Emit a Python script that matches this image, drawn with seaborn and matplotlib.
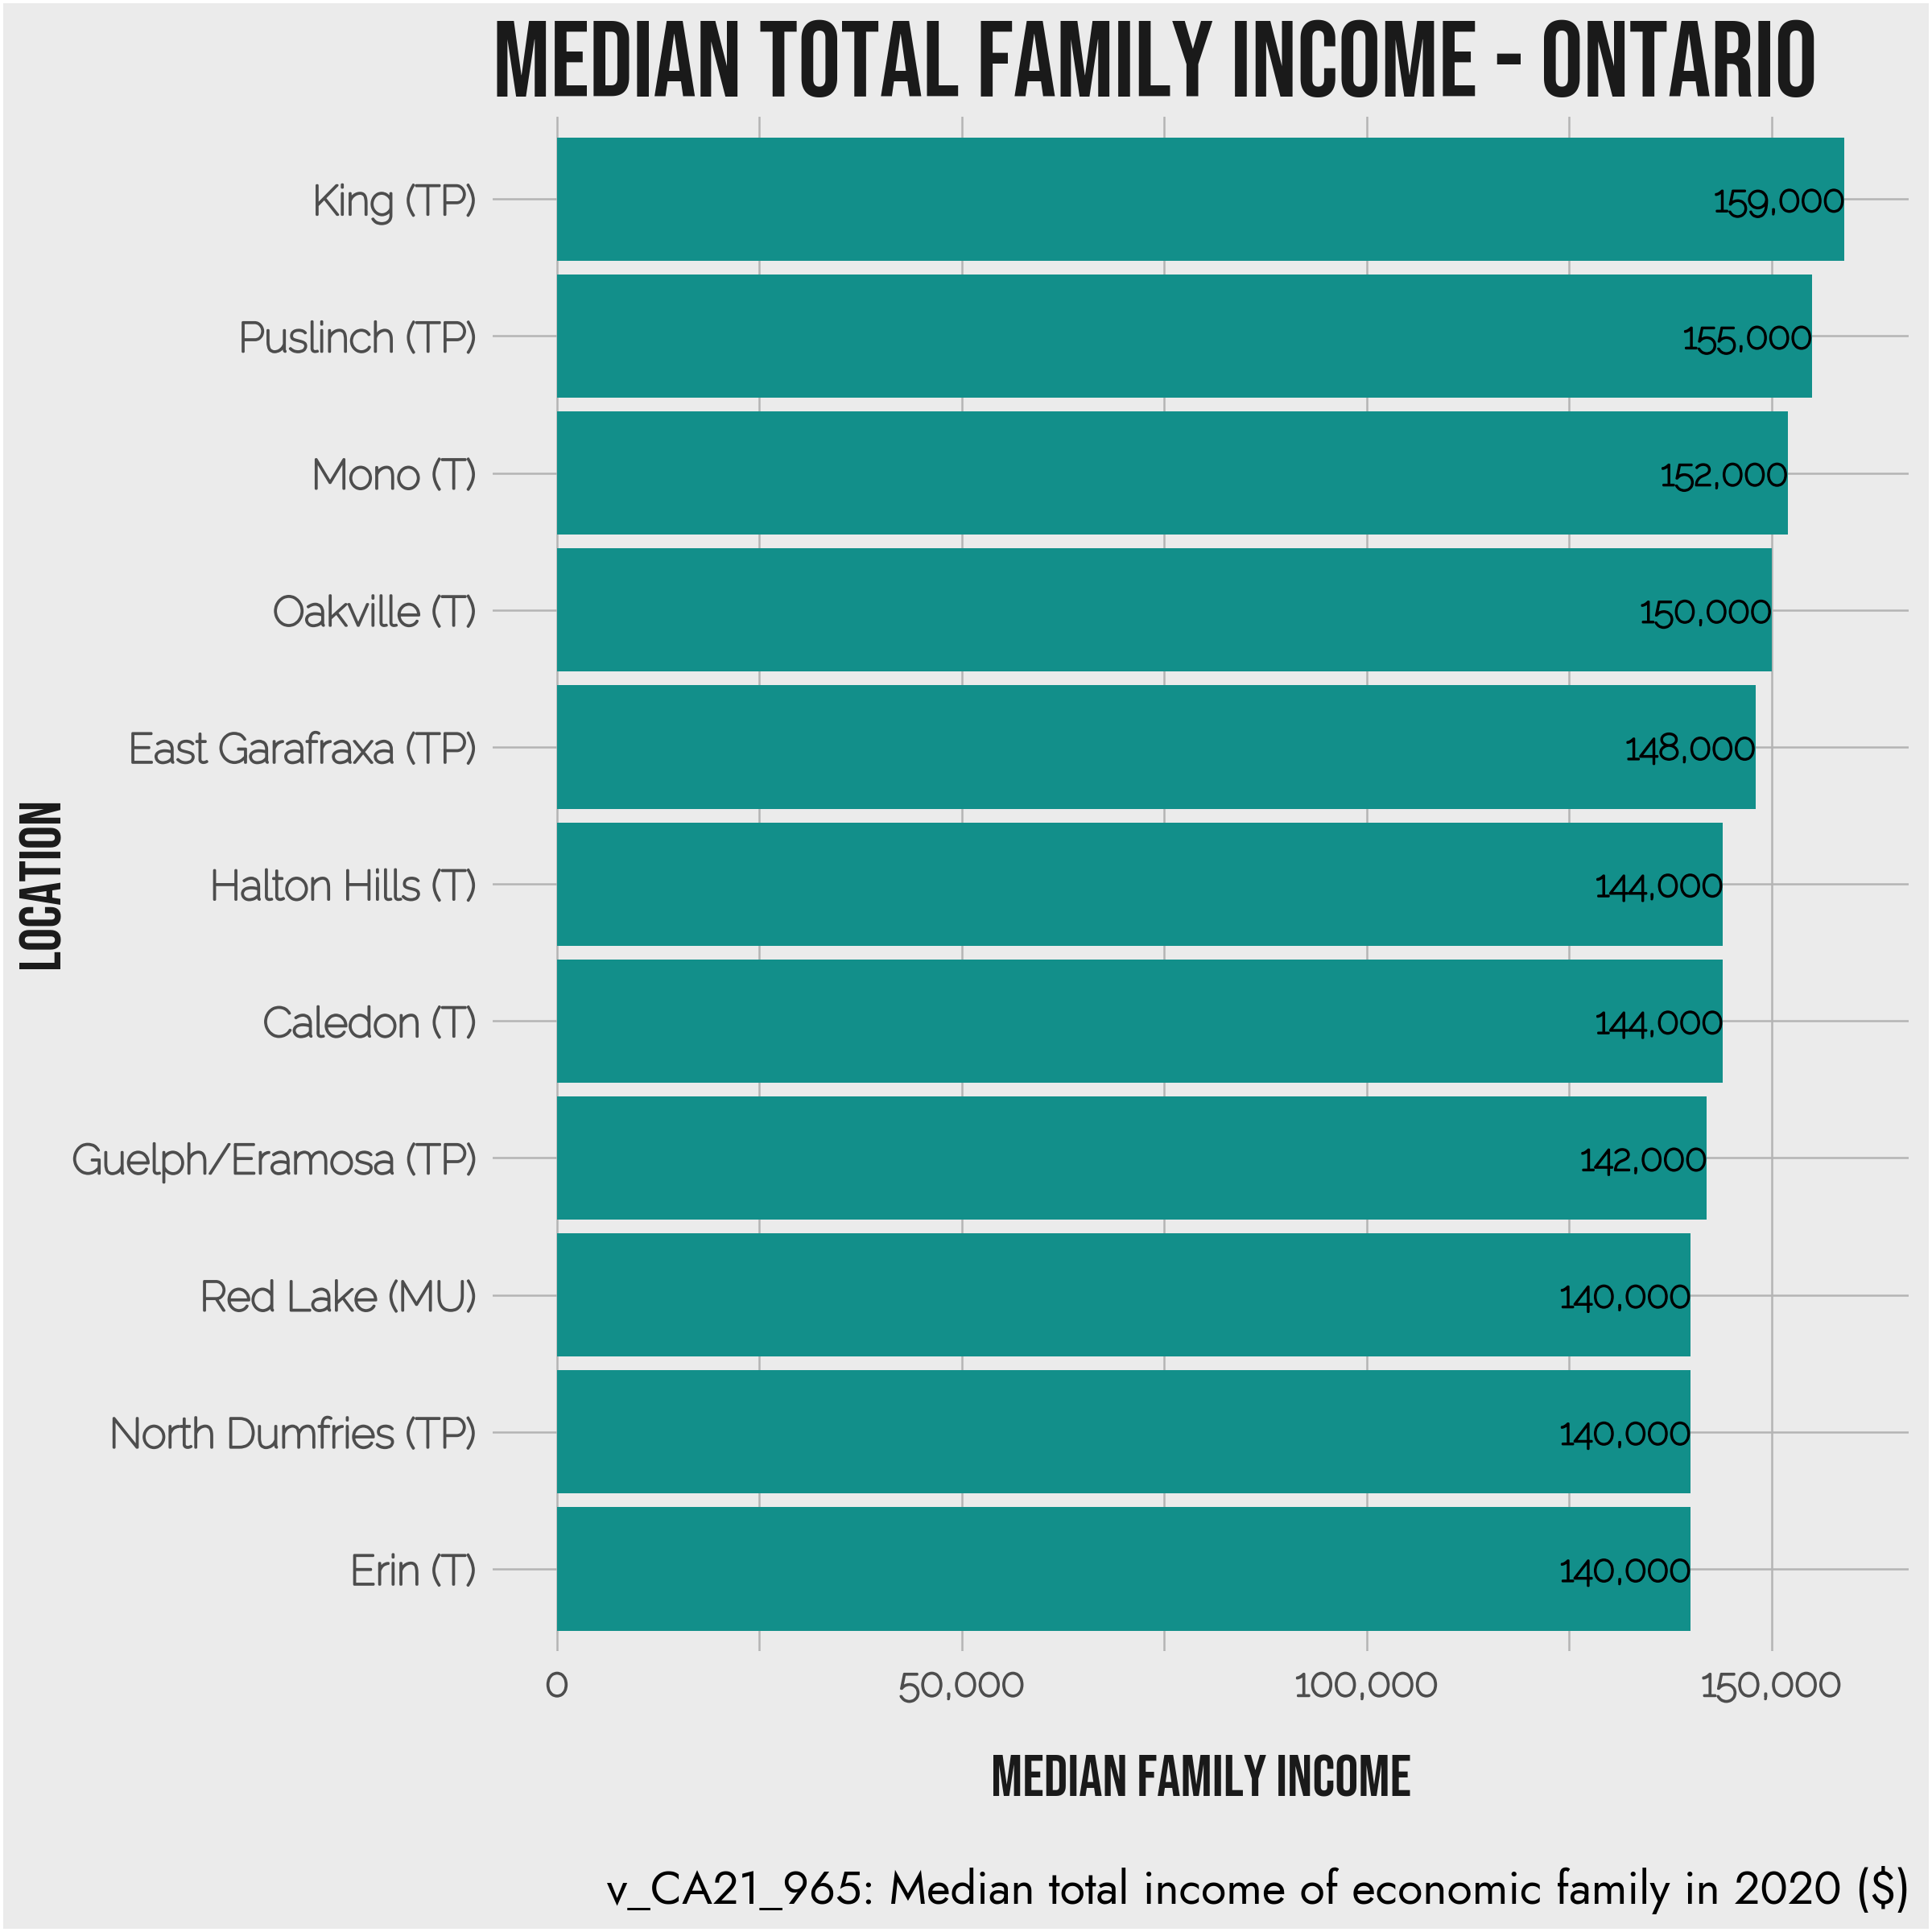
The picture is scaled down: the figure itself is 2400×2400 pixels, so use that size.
import matplotlib
matplotlib.use("Agg")
import matplotlib.pyplot as plt
import matplotlib.patheffects as pe
import seaborn as sns
import pandas as pd

locations = ["King (TP)", "Puslinch (TP)", "Mono (T)", "Oakville (T)", "East Garafraxa (TP)",
             "Halton Hills (T)", "Caledon (T)", "Guelph/Eramosa (TP)", "Red Lake (MU)",
             "North Dumfries (TP)", "Erin (T)"]
income = [159000, 155000, 152000, 150000, 148000, 144000, 144000, 142000, 140000, 140000, 140000]
major_ticks = [0, 50000, 100000, 150000]
minor_ticks = [25000, 75000, 125000]

df = pd.DataFrame({"location": locations, "income": income})

bg = "#ebebeb"
bar_color = "#128f8a"
grid_color = "#b4b4b4"
tick_color = "#4d4d4d"

sns.set_theme(style="whitegrid")
plt.rcParams["font.family"] = ["Raleway", "DejaVu Sans"]

# Raleway is only available as the thin instance, so thicken it with a stroke
def heavier(color, lw=0.7):
    return [pe.withStroke(linewidth=lw, foreground=color)]

fig = plt.figure(figsize=(8, 8), dpi=300, facecolor=bg)
fig.patch.set_edgecolor("white")
fig.patch.set_linewidth(1.5)
ax = fig.add_axes([0.255, 0.1454, 0.733, 0.7941])
ax.set_facecolor(bg)

sns.barplot(data=df, y="location", x="income", color=bar_color, saturation=1,
            width=0.9, ax=ax, zorder=3, edgecolor="none", linewidth=0)

for i, v in enumerate(income):
    ax.text(v, i + 0.02, f"{v:,}", ha="right", va="center", fontsize=10.9,
            color="black", zorder=4, path_effects=heavier("black", 0.6))

ax.set_xlim(-7950, 166950)
ax.set_ylim(len(locations) - 0.4, -0.6)
ax.set_xticks(major_ticks)
ax.set_xticklabels([f"{t:,}" for t in major_ticks])
ax.set_xticks(minor_ticks, minor=True)
ax.grid(True, which="both", axis="x", color=grid_color, linewidth=0.6)
ax.grid(True, which="major", axis="y", color=grid_color, linewidth=0.6)
ax.set_axisbelow(True)
for s in ax.spines.values():
    s.set_visible(False)
ax.tick_params(axis="both", which="both", length=0)
ax.tick_params(axis="x", pad=5, labelsize=11.6, labelcolor=tick_color)
ax.tick_params(axis="y", pad=5, labelsize=12.4, labelcolor=tick_color)
for lab in ax.get_xticklabels() + ax.get_yticklabels():
    lab.set_path_effects(heavier(tick_color, 0.65))

ax.set_xlabel("")
ax.set_ylabel("")

fig.text(0.255, 0.950, "MEDIAN TOTAL FAMILY INCOME - ONTARIO", fontfamily="Bebas Neue",
         fontsize=31.9, color="#1a1a1a", ha="left", va="baseline")
fig.text(0.6217, 0.070, "MEDIAN FAMILY INCOME", fontfamily="Bebas Neue",
         fontsize=17.5, color="#1a1a1a", ha="center", va="baseline")
fig.text(0.031, 0.543, "LOCATION", fontfamily="Bebas Neue", fontsize=17.5,
         color="#1a1a1a", ha="right", va="center", rotation=90)
fig.text(0.989, 0.0146, "v_CA21_965: Median total income of economic family in 2020 ($)",
         fontfamily="Jost", fontsize=13.75, color="black", ha="right", va="baseline")

fig.savefig("out.png", dpi=300, facecolor=bg, edgecolor="white")
